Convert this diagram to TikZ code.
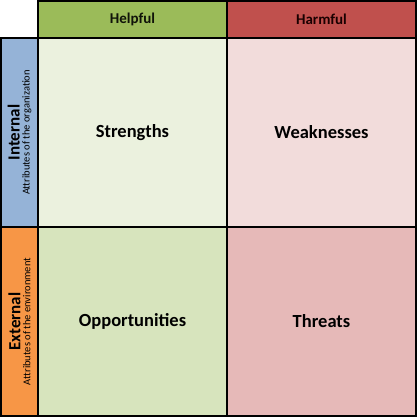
\documentclass[tikz,border=0pt]{standalone}
\usepackage{fontspec}
\setmainfont{Carlito}
\definecolor{helpgreen}{HTML}{9BBB59}
\definecolor{harmred}{HTML}{C0504D}
\definecolor{intblue}{HTML}{95B3D7}
\definecolor{extorange}{HTML}{F79646}
\definecolor{strfill}{HTML}{EBF1DE}
\definecolor{weakfill}{HTML}{F2DCDB}
\definecolor{oppfill}{HTML}{D7E4BD}
\definecolor{thrfill}{HTML}{E6B9B8}
\tikzset{
	cell/.style={rectangle, draw, line width=1.4pt, minimum width=189pt, minimum height=189pt, inner sep=0pt, font=\fontsize{18.5}{22}\selectfont\bfseries},
	head/.style={rectangle, draw, line width=1.4pt, minimum width=189pt, minimum height=37pt, inner sep=0pt, font=\fontsize{15}{18}\selectfont\bfseries},
	side/.style={head, rotate=90, align=center, font=\fontsize{10.5}{12}\selectfont}
}
\begin{document}
\begin{tikzpicture}[x=1pt,y=-1pt]
	\useasboundingbox (0,0) rectangle (417,417);
	\node (HE) at (132.5, 19.5)	[head, fill = helpgreen, text = black!90!helpgreen]	{Helpful};
	\node (HA) at (321.5, 19.5)	[head, fill = harmred, text = black!90!red]	{Harmful};
	\node (IN) at ( 19.5,132.5)	[side, fill = intblue]	{{\fontsize{17}{17}\selectfont\bfseries Internal}\\[-2pt]Attributes of the organization};
	\node (EX) at ( 19.5,321.5)	[side, fill = extorange]	{{\fontsize{17}{17}\selectfont\bfseries External}\\[-2pt]Attributes of the environment};
	\node (S) at (132.5,132.5)	[cell, fill = strfill]	{Strengths};
	\node (W) at (321.5,132.5)	[cell, fill = weakfill]	{Weaknesses};
	\node (O) at (132.5,321.5)	[cell, fill = oppfill]	{Opportunities};
	\node (T) at (321.5,321.5)	[cell, fill = thrfill]	{Threats};
\end{tikzpicture}
\end{document}
